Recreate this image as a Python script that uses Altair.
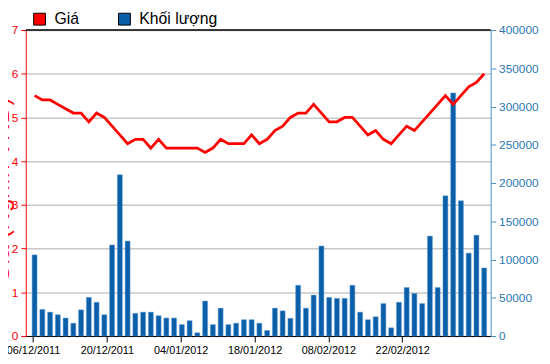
import altair as alt
import pandas as pd

# ---- data ----
price = [5.5, 5.4, 5.4, 5.3, 5.2, 5.1, 5.1, 4.9, 5.1, 5.0,
         4.8, 4.6, 4.4, 4.5, 4.5, 4.3, 4.5, 4.3, 4.3, 4.3,
         4.3, 4.3, 4.2, 4.3, 4.5, 4.4, 4.4, 4.4, 4.6, 4.4,
         4.5, 4.7, 4.8, 5.0, 5.1, 5.1, 5.3, 5.1, 4.9, 4.9,
         5.0, 5.0, 4.8, 4.6, 4.7, 4.5, 4.4, 4.6, 4.8, 4.7,
         4.9, 5.1, 5.3, 5.5, 5.3, 5.5, 5.7, 5.8, 6.0]

volume = [106000, 34700, 31200, 27800, 23500, 16700, 34200, 50500, 44100, 27800,
          119000, 210700, 124100, 29600, 31200, 31200, 26500, 23500, 23500, 14900,
          20000, 4200, 45700, 14900, 36400, 14900, 16700, 21300, 21300, 16700,
          7200, 36400, 32900, 23100, 66300, 36400, 53500, 117700, 50500, 49200,
          49200, 66300, 31200, 21300, 25200, 42400, 10700, 44100, 63400, 55600,
          42400, 130600, 63400, 183200, 317800, 176800, 108300, 131800, 89000]

tick_labels = ["06/12/2011", "20/12/2011", "04/01/2012", "18/01/2012", "08/02/2012", "22/02/2012"]
tick_index = [-0.2, 9.33, 18.85, 28.38, 37.9, 47.43]
series_names = ["Giá", "Khối lượng"]
price_ticks = [0, 1, 2, 3, 4, 5, 6, 7]
volume_ticks = [0, 50000, 100000, 150000, 200000, 250000, 300000, 350000, 400000]

df = pd.DataFrame({
    "i": list(range(len(price))),
    "price": price,
    "volume": volume,
    "series": [series_names[1]] * len(price),
})

FONT = "Liberation Sans"
RED = "#ff0000"
BLUE = "#0a5fa8"
AXIS_BLUE = "#2a77b2"
W, H = 471, 310

label_expr = " : ".join(
    f"abs(datum.value - ({v})) < 0.05 ? '{t}'" for v, t in zip(tick_index, tick_labels)
) + " : ''"

x_enc = alt.X(
    "i:Q",
    scale=alt.Scale(domain=[-0.5, 58.2], nice=False, zero=False),
    axis=alt.Axis(
        values=tick_index, labelExpr=label_expr, title=None, grid=False,
        domainColor="#000000", tickColor="#000000", tickSize=6,
        labelColor="#000000", labelFontSize=11, labelPadding=3, labelFont=FONT,
        labelOverlap=False, labelBound=False, labelFlush=False,
    ),
)

bars = alt.Chart(df).mark_bar(size=5, stroke="#5d9bd6", strokeWidth=0.5).encode(
    x=x_enc,
    y=alt.Y(
        "volume:Q",
        scale=alt.Scale(domain=[0, 400000], nice=False),
        axis=alt.Axis(
            orient="right", values=volume_ticks, format="d", title=None, grid=False,
            domainColor="#4a8fc4", tickColor="#4a8fc4", tickSize=5,
            labelColor=AXIS_BLUE, labelFontSize=12, labelPadding=3, labelFont=FONT,
        ),
    ),
    color=alt.Color(
        "series:N",
        scale=alt.Scale(domain=series_names, range=[RED, BLUE]),
        legend=alt.Legend(
            orient="none", legendX=6, legendY=-19, direction="horizontal", title=None,
            symbolType="square", symbolSize=144, symbolStrokeColor="#000000",
            symbolStrokeWidth=1, labelFontSize=16, labelFont=FONT, labelColor="#000000",
            labelOffset=7, columnPadding=38, padding=0,
        ),
    ),
)

line = alt.Chart(df).mark_line(color=RED, strokeWidth=2.8).encode(
    x=alt.X("i:Q"),
    y=alt.Y(
        "price:Q",
        scale=alt.Scale(domain=[0, 7], nice=False),
        axis=alt.Axis(
            orient="left", values=price_ticks, title="Giá (Nghìn VNĐ)",
            titleColor=RED, titleFontSize=25, titleFontWeight="normal", titleFont=FONT,
            titleX=-17, titleY=162, titleAngle=270, titleAlign="center",
            titleBaseline="alphabetic",
            grid=True, gridColor="#c8c8c8", gridWidth=1.5,
            domainColor=RED, tickColor=RED, tickSize=5,
            labelColor=RED, labelFontSize=12, labelPadding=3, labelFont=FONT,
        ),
    ),
)

top_border = alt.Chart(pd.DataFrame({"k": [0]})).mark_rule(
    color="#000000", strokeWidth=1.5
).encode(x=alt.value(0), x2=alt.value(W), y=alt.value(0))

chart = (
    alt.layer(bars, line, top_border)
    .resolve_scale(y="independent")
    .properties(
        width=W, height=H,
        autosize=alt.AutoSizeParams(type="none"),
        padding={"left": 18, "top": 20, "right": 52, "bottom": 22},
    )
    .configure(font=FONT)
    .configure_view(stroke=None)
)

chart.save("out.html", embed_options={"renderer": "svg", "actions": False})
